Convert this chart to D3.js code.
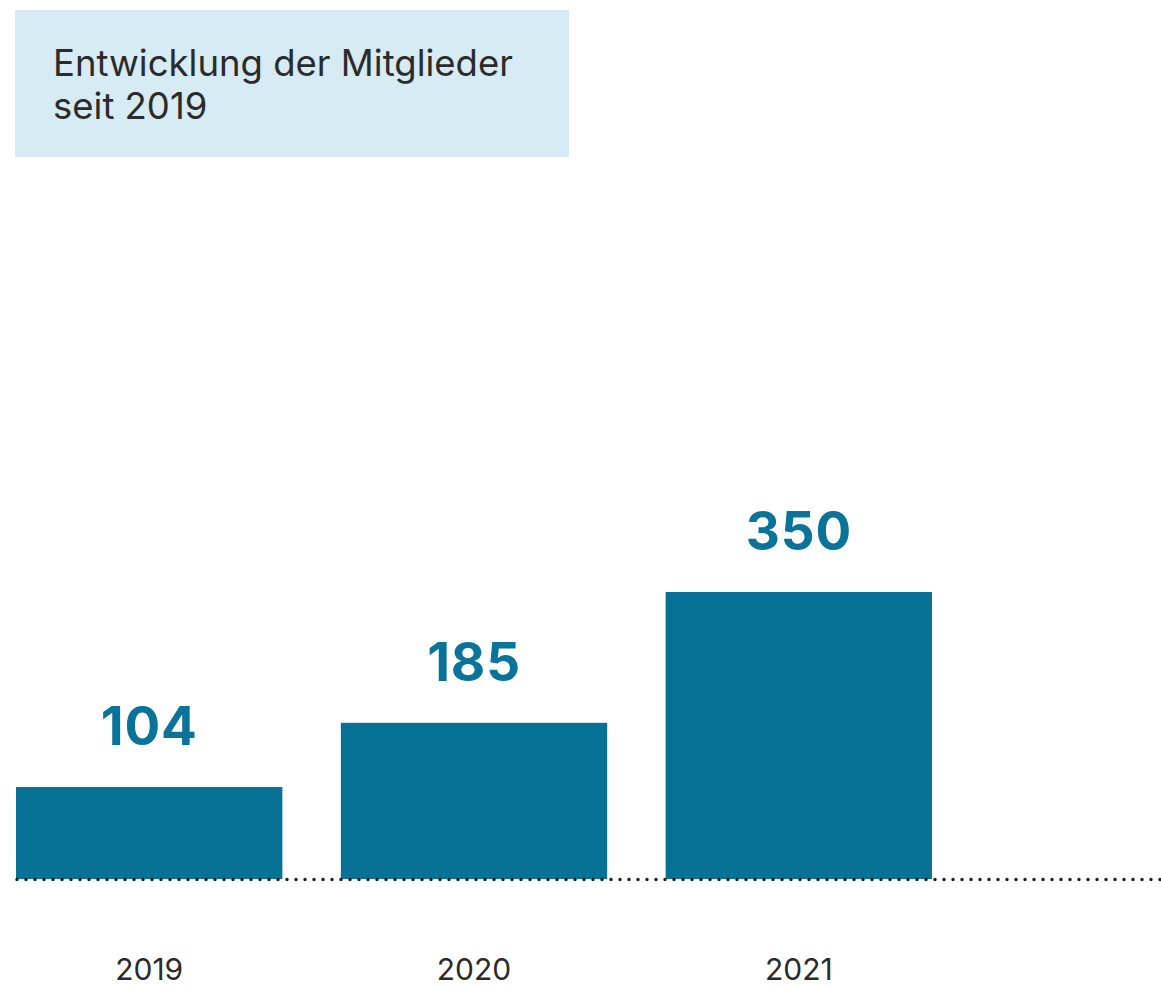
<!DOCTYPE html>
<html>
<head>
<meta charset="utf-8">
<script src="https://cdn.jsdelivr.net/npm/d3@7"></script>
<style>
  body { margin: 0; background: #fff; }
  svg { display: block; }
</style>
</head>
<body>
<svg id="chart" width="1161" height="987"></svg>
<script>
const years = ["2019", "2020", "2021"];
const members = [104, 185, 350];
const titleLines = ["Entwicklung der Mitglieder", "seit 2019"];

const svg = d3.select("#chart");
const width = +svg.attr("width");
const baseY = 879;
const font = "Inter, 'Liberation Sans', Arial, sans-serif";

// title box
svg.append("rect")
  .attr("x", 15).attr("y", 10)
  .attr("width", 554).attr("height", 147)
  .attr("fill", "#d6ebf4");

svg.append("g")
  .selectAll("text")
  .data(titleLines)
  .enter()
  .append("text")
  .attr("x", 53)
  .attr("y", (d, i) => 76 + i * 43)
  .style("font-family", font)
  .style("font-size", "36.5px")
  .attr("fill", "#2b2b2b")
  .text(d => d);

const x = d3.scaleBand()
  .domain(years)
  .range([16, 932])
  .paddingInner(0.18)
  .paddingOuter(0);

// bars do not start at zero in the original
const y = d3.scaleLinear()
  .domain([-12, 350])
  .range([baseY, 592]);

const data = years.map((yr, i) => ({ year: yr, value: members[i] }));

svg.append("g")
  .selectAll("rect")
  .data(data)
  .enter()
  .append("rect")
  .attr("x", d => x(d.year))
  .attr("y", d => y(d.value))
  .attr("width", x.bandwidth())
  .attr("height", d => baseY - y(d.value))
  .attr("fill", "#077196");

// dotted baseline
svg.append("line")
  .attr("x1", 17).attr("x2", width)
  .attr("y1", baseY + 0.5).attr("y2", baseY + 0.5)
  .attr("stroke", "#222")
  .attr("stroke-width", 3.5)
  .attr("stroke-linecap", "round")
  .attr("stroke-dasharray", "0 9");

// value labels
svg.append("g")
  .selectAll("text")
  .data(data)
  .enter()
  .append("text")
  .attr("x", d => x(d.year) + x.bandwidth() / 2)
  .attr("y", d => y(d.value) - 42)
  .attr("text-anchor", "middle")
  .style("font-family", font)
  .style("font-weight", "bold")
  .style("font-size", "53px")
  .style("letter-spacing", "0.8px")
  .attr("fill", "#0a7399")
  .text(d => d.value);

// year labels
svg.append("g")
  .selectAll("text")
  .data(data)
  .enter()
  .append("text")
  .attr("x", d => x(d.year) + x.bandwidth() / 2)
  .attr("y", 980)
  .attr("text-anchor", "middle")
  .style("font-family", font)
  .style("font-size", "30px")
  .attr("fill", "#2b2b2b")
  .text(d => d.year);
</script>
</body>
</html>
